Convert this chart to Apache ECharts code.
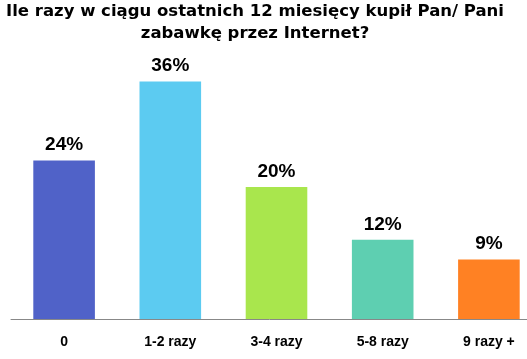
<!DOCTYPE html>
<html>
<head>
<meta charset="utf-8">
<script src="https://cdn.jsdelivr.net/npm/echarts@6/dist/echarts.min.js"></script>
<style>
  html, body { margin: 0; padding: 0; background: #fff; }
  #chart { width: 527px; height: 359px; }
</style>
</head>
<body>
<div id="chart"></div>
<script>
// dane z wykresu
var categories = ["0", "1-2 razy", "3-4 razy", "5-8 razy", "9 razy +"];
var values = [24, 36, 20, 12, 9];
var colors = ["#5062C8", "#5CCBF1", "#A9E64D", "#5ECFB1", "#FF8123"];

var myChart = echarts.init(document.getElementById("chart"));

myChart.setOption({
  backgroundColor: "#fff",
  animation: false,
  title: {
    text: "Ile razy w ciągu ostatnich 12 miesięcy kupił Pan/ Pani\nzabawkę przez Internet?",
    left: 255,
    textAlign: "center",
    top: 1,
    padding: 0,
    textStyle: {
      fontFamily: "DejaVu Sans, sans-serif",
      fontWeight: "bold",
      fontSize: 16.5,
      lineHeight: 22,
      color: "#000"
    }
  },
  grid: {
    left: 11,
    width: 531,
    top: 55,
    bottom: 40,
    outerBoundsMode: "none"
  },
  xAxis: {
    type: "category",
    data: categories,
    axisLine: { lineStyle: { color: "#888", width: 1 } },
    axisTick: { show: false },
    axisLabel: {
      margin: 16,
      fontFamily: "Liberation Sans, Arial, sans-serif",
      fontWeight: "bold",
      fontSize: 14,
      color: "#000"
    }
  },
  yAxis: {
    type: "value",
    min: 0,
    max: 40,
    show: false
  },
  series: [
    {
      type: "bar",
      barWidth: "58%",
      data: values.map(function (v, i) {
        return { value: v, itemStyle: { color: colors[i] } };
      }),
      label: {
        show: true,
        position: "top",
        distance: 6,
        formatter: "{c}%",
        fontFamily: "Liberation Sans, Arial, sans-serif",
        fontWeight: "bold",
        fontSize: 19,
        color: "#000"
      }
    }
  ]
});
</script>
</body>
</html>
